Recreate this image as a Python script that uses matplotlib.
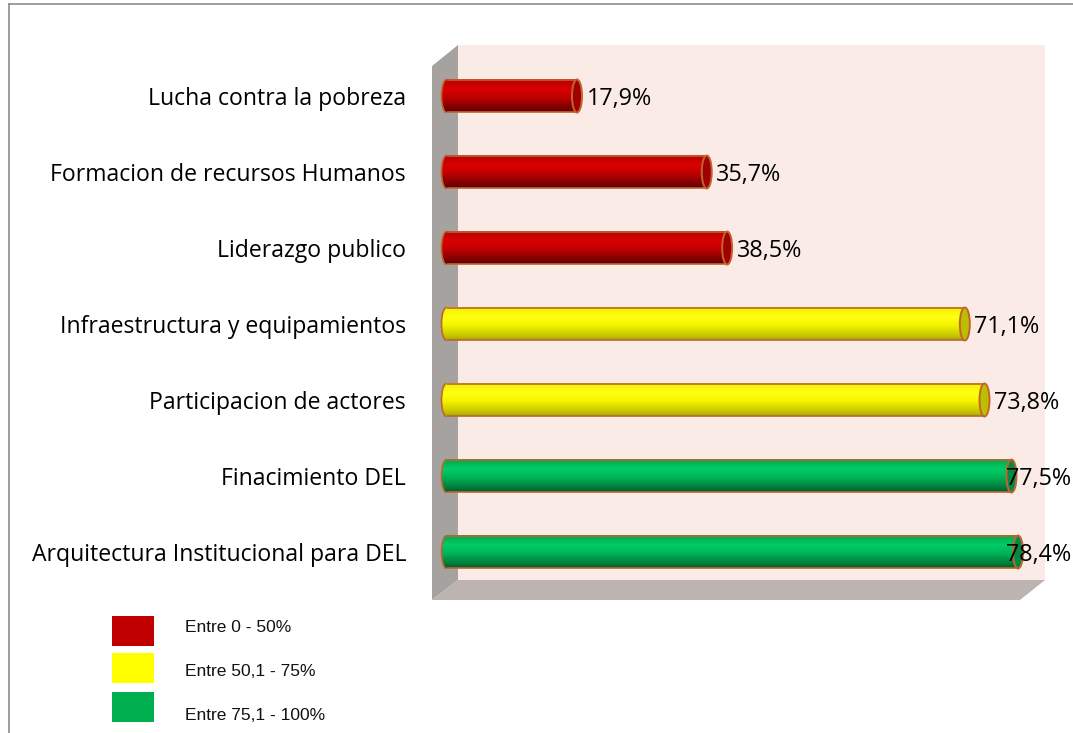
import numpy as np
import matplotlib
matplotlib.use('Agg')
import matplotlib.pyplot as plt
from matplotlib.patches import Ellipse, Polygon, Rectangle, Arc
from matplotlib.colors import to_rgb

# datos
categorias = ['Arquitectura Institucional para DEL', 'Finacimiento DEL',
              'Participacion de actores', 'Infraestructura y equipamientos',
              'Liderazgo publico', 'Formacion de recursos Humanos',
              'Lucha contra la pobreza']
valores = [78.4, 77.5, 73.8, 71.1, 38.5, 35.7, 17.9]

rangos = ['Entre 0 - 50%', 'Entre 50,1 - 75%', 'Entre 75,1 - 100%']
limites = [50, 75, 100]
colores_rango = ['#C00000', '#FFFF00', '#00B050']

# degradado de cada cilindro (arriba -> abajo) y color de la tapa
degradados = [
    ['#B40000', '#DC0000', '#C00000', '#7A0000', '#5E0000'],
    ['#F0F000', '#FFFF10', '#F4F400', '#C4C400', '#A8A800'],
    ['#00A84C', '#00CC66', '#00B458', '#007A3A', '#005C2C'],
]
tapas = ['#A00000', '#BEBE00', '#008A44']
borde = '#C0652E'

fuente = ['Open Sans', 'DejaVu Sans']
fuente_ley = ['Liberation Sans', 'DejaVu Sans']

W, H = 1073, 733
fig = plt.figure(figsize=(W / 100, H / 100), dpi=100)

# fondo en pixeles: marco y paredes 3D
bg = fig.add_axes([0, 0, 1, 1])
bg.set_xlim(0, W)
bg.set_ylim(H, 0)
bg.axis('off')
bg.add_patch(Rectangle((458, 45), 1045 - 458, 580 - 45, color='#FBEBE7', lw=0))
bg.add_patch(Polygon([(432, 66), (458, 45), (458, 580), (432, 600)],
                     closed=True, color='#A6A2A0', lw=0))
bg.add_patch(Polygon([(432, 600), (458, 580), (1045, 580), (1020, 600)],
                     closed=True, color='#BDB4B2', lw=0))
bg.plot([9, W], [4, 4], color='#8C8C8C', lw=1.2)
bg.plot([9, 9], [4, H], color='#8C8C8C', lw=1.2)

# leyenda de rangos
cajas_y = [631, 668, 707]
textos_y = [628, 672, 716]
for k in range(3):
    bg.add_patch(Rectangle((112, cajas_y[k] - 15), 42, 30, color=colores_rango[k], lw=0))
    bg.text(185, textos_y[k], rangos[k], ha='left', va='center',
            fontsize=12.5, family=fuente_ley, color='#111111')

# ejes de las barras
x0_px, x1_px, y0_px, y1_px = 432, 1045, 45, 600
escala = 7.29  # px por unidad
origen = 446.5
ax = fig.add_axes([x0_px / W, (H - y1_px) / H, (x1_px - x0_px) / W, (y1_px - y0_px) / H])
ax.patch.set_alpha(0)
xlim = ((x0_px - origen) / escala, (x1_px - origen) / escala)
ylim = ((552 - y1_px) / 76, (552 - y0_px) / 76)

h = 0.434
w = 10 / escala
for i, v in enumerate(valores):
    k = next(j for j, lim in enumerate(limites) if v <= lim)
    stops = np.array([to_rgb(c) for c in degradados[k]])
    pos = np.array([0, 0.3, 0.55, 0.88, 1.0])
    t = np.linspace(0, 1, 64)
    grad = np.stack([np.interp(t, pos, stops[:, c]) for c in range(3)], axis=-1)[:, None, :]

    ax.imshow(grad, extent=(0, v, i - h / 2, i + h / 2), aspect='auto',
              origin='upper', zorder=2, interpolation='bilinear')
    izq = Ellipse((0, i), w, h, facecolor='none', edgecolor='none')
    ax.add_patch(izq)
    im = ax.imshow(grad, extent=(-w / 2, w / 2, i - h / 2, i + h / 2), aspect='auto',
                   origin='upper', zorder=2, interpolation='bilinear')
    im.set_clip_path(izq)
    ax.plot([0, v], [i + h / 2, i + h / 2], color=borde, lw=1.2, zorder=3,
            solid_capstyle='butt')
    ax.plot([0, v], [i - h / 2, i - h / 2], color=borde, lw=1.2, zorder=3,
            solid_capstyle='butt')
    ax.add_patch(Arc((0, i), w, h, theta1=90, theta2=270, color=borde, lw=1.2, zorder=3))
    ax.add_patch(Ellipse((v, i), w, h, facecolor=tapas[k], edgecolor=borde,
                         lw=1.4, zorder=4))

    etiqueta = f'{v:.1f}%'.replace('.', ',')
    ax.text(min(v + 1.3, 76.8), i - 0.04, etiqueta, ha='left', va='center',
            fontsize=16.8, family=fuente, color='#000000', zorder=5)

ax.set_xlim(*xlim)
ax.set_ylim(*ylim)
ax.set_xticks([])
ax.set_yticks(range(len(categorias)))
ax.set_yticklabels(categorias, fontsize=16.6, family=fuente, color='#000000')
ax.tick_params(axis='y', length=0, pad=18.7)
for s in ax.spines.values():
    s.set_visible(False)

fig.savefig('out.png', dpi=100)
